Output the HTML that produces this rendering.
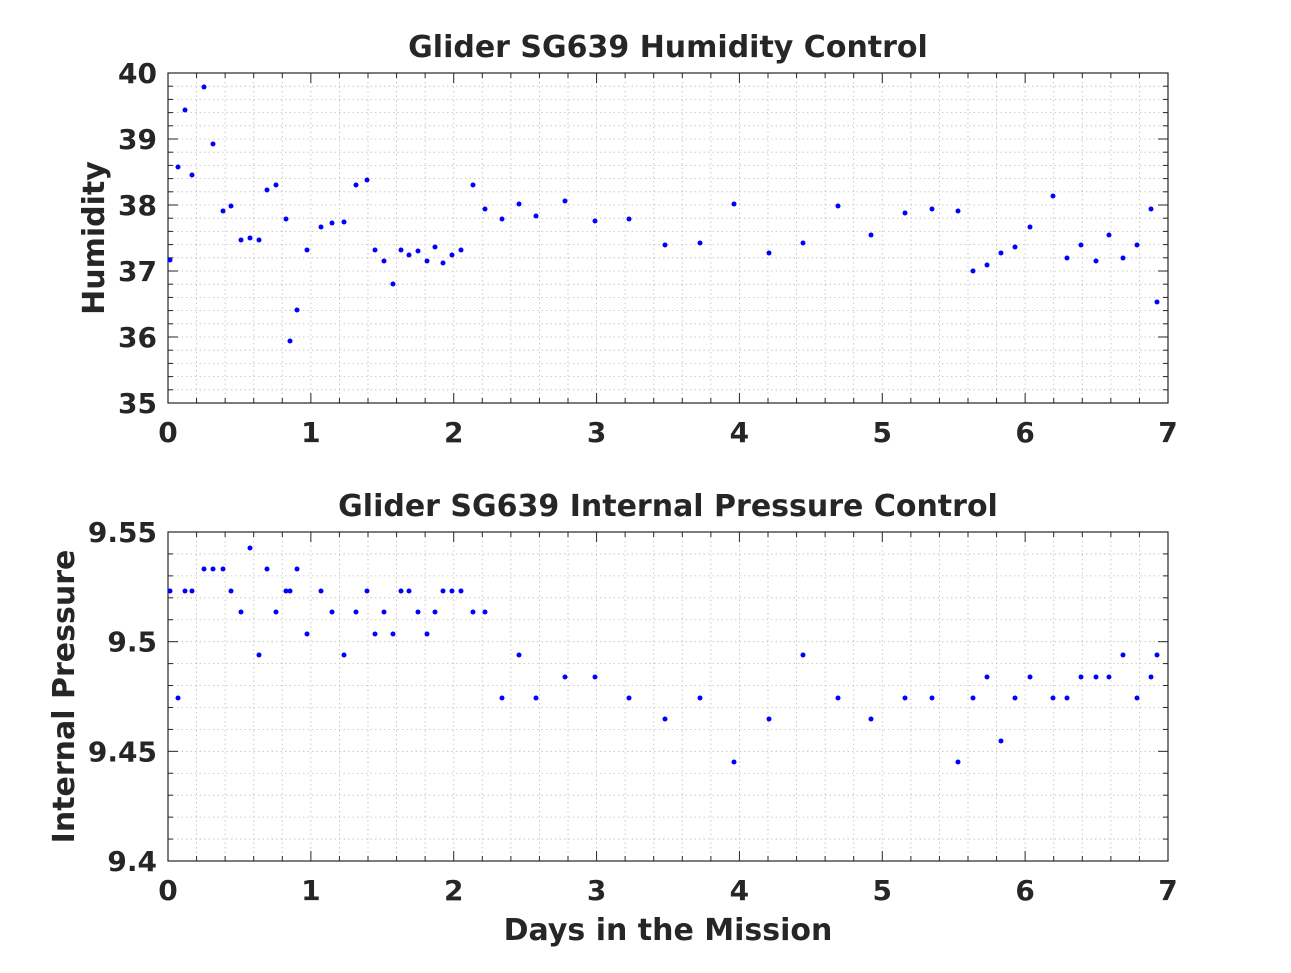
<!DOCTYPE html>
<html><head><style>
html,body{margin:0;padding:0;background:#fff;}
svg text{font-family:"DejaVu Sans","Liberation Sans",sans-serif;font-weight:bold;fill:#262626;}
</style></head><body>
<svg id="s" width="1291" height="968" xmlns="http://www.w3.org/2000/svg"></svg>
<script>
var s=document.getElementById('s'),h='';
function ax(top,bot,yl,ystep,nminor,labels,title,ylabel,pts){
 var L=168,R=1168;
 for(var i=0;i<=35;i++){var x=L+i*1000/35;
  h+='<line x1="'+x+'" y1="'+top+'" x2="'+x+'" y2="'+bot+'" stroke="#bdbdbd" stroke-width="0.8" stroke-dasharray="1.5,3"/>';}
 for(var j=0;j<=nminor;j++){var y=top+j*(bot-top)/nminor;
  h+='<line x1="'+L+'" y1="'+y+'" x2="'+R+'" y2="'+y+'" stroke="#bdbdbd" stroke-width="0.8" stroke-dasharray="1.5,3"/>';}
 h+='<rect x="'+L+'" y="'+top+'" width="1000" height="'+(bot-top)+'" fill="none" stroke="#262626" stroke-width="1.2"/>';
 for(var i=0;i<=35;i++){var x=L+i*1000/35,t=(i%5==0)?10:5;
  h+='<line x1="'+x+'" y1="'+bot+'" x2="'+x+'" y2="'+(bot-t)+'" stroke="#262626"/><line x1="'+x+'" y1="'+top+'" x2="'+x+'" y2="'+(top+t)+'" stroke="#262626"/>';}
 for(var j=0;j<=nminor;j++){var y=top+j*(bot-top)/nminor,t=(j%ystep==0)?10:5;
  h+='<line x1="'+L+'" y1="'+y+'" x2="'+(L+t)+'" y2="'+y+'" stroke="#262626"/><line x1="'+R+'" y1="'+y+'" x2="'+(R-t)+'" y2="'+y+'" stroke="#262626"/>';}
 for(var i=0;i<=7;i++) h+='<text x="'+(L+i*1000/7)+'" y="'+(bot+39)+'" font-size="28" text-anchor="middle">'+i+'</text>';
 for(var k=0;k<labels.length;k++){var y=top+k*(bot-top)/(labels.length-1);
  h+='<text x="'+(L-11)+'" y="'+(y+10)+'" font-size="28" text-anchor="end">'+labels[k]+'</text>';}
 h+='<text x="668" y="'+(top-16)+'" font-size="30" text-anchor="middle">'+title+'</text>';
 var cy=(top+bot)/2;
 h+='<text x="'+yl+'" y="'+cy+'" font-size="30" text-anchor="middle" transform="rotate(-90 '+yl+' '+cy+')">'+ylabel+'</text>';
 for(var p=0;p<pts.length;p+=2) h+='<circle cx="'+pts[p]+'" cy="'+pts[p+1]+'" r="2.5" fill="#0000ff"/>';
}
ax(73,403,104,5,25,['40','39','38','37','36','35'],'Glider SG639 Humidity Control','Humidity',
[170,260,178,167,185,110,192,175,204,87,213,144,223,211,231,206,241,240,250,238,259,240,267,190,276,185,286,219,290,341,297,310,307,250,321,227,332,223,344,222,356,185,367,180,375,250,384,261,393,284,401,250,409,255,418,251,427,261,435,247,443,263,452,255,461,250,473,185,485,209,502,219,519,204,536,216,565,201,595,221,629,219,665,245,700,243,734,204,769,253,803,243,838,206,871,235,905,213,932,209,958,211,973,271,987,265,1001,253,1015,247,1030,227,1053,196,1067,258,1081,245,1096,261,1109,235,1123,258,1137,245,1151,209,1157,302]);
ax(532,861,74,5,15,['9.55','9.5','9.45','9.4'],'Glider SG639 Internal Pressure Control','Internal Pressure',
[170,591,178,698,185,591,192,591,204,569,213,569,223,569,231,591,241,612,250,548,259,655,267,569,276,612,286,591,290,591,297,569,307,634,321,591,332,612,344,655,356,612,367,591,375,634,384,612,393,634,401,591,409,591,418,612,427,634,435,612,443,591,452,591,461,591,473,612,485,612,502,698,519,655,536,698,565,677,595,677,629,698,665,719,700,698,734,762,769,719,803,655,838,698,871,719,905,698,932,698,958,762,973,698,987,677,1001,741,1015,698,1030,677,1053,698,1067,698,1081,677,1096,677,1109,677,1123,655,1137,698,1151,677,1157,655]);
h+='<text x="668" y="940" font-size="30" text-anchor="middle">Days in the Mission</text>';
s.innerHTML=h;
</script>
</body></html>
